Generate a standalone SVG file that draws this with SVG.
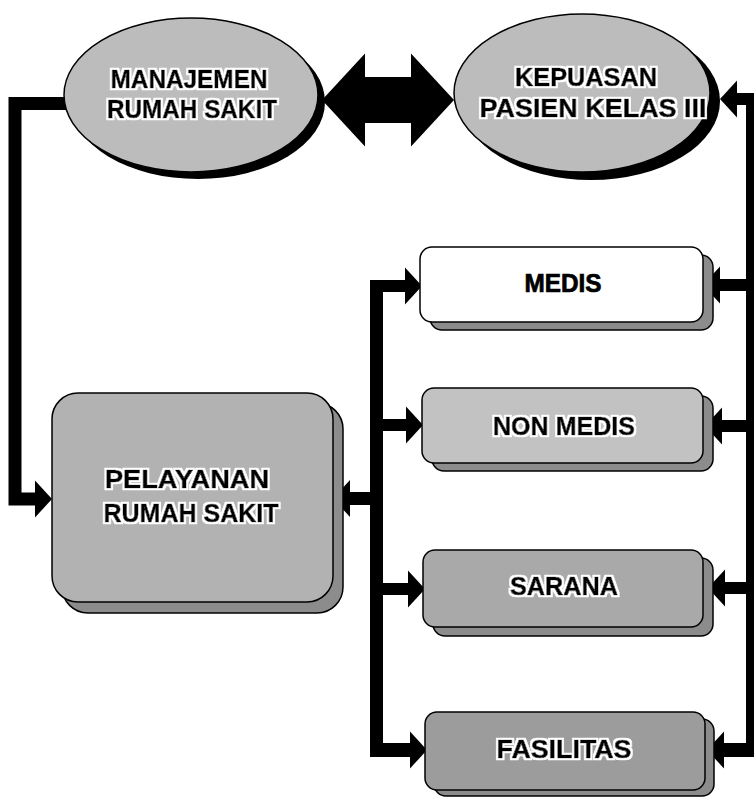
<svg xmlns="http://www.w3.org/2000/svg" width="755" height="798" viewBox="0 0 755 798">
<style>
.lbl{font-family:"Liberation Sans",Arial,sans-serif;font-weight:bold;font-size:25px;fill:#000;text-anchor:middle;stroke:#000;stroke-width:0.7;filter:url(#halo)}
.plain{filter:none}
.edge{stroke:#000;stroke-width:1.5}
.shadow{fill:#8c8c8c;stroke:#000;stroke-width:1.5}
.conn{fill:none;stroke:#000;stroke-linejoin:miter}
</style>
<defs>
<filter id="halo" x="-10%" y="-30%" width="120%" height="160%">
<feMorphology in="SourceAlpha" operator="dilate" radius="1.6" result="d"/>
<feFlood flood-color="#fff"/>
<feComposite in2="d" operator="in" result="w"/>
<feMerge><feMergeNode in="w"/><feMergeNode in="SourceGraphic"/></feMerge>
</filter>
<marker id="ah" markerUnits="userSpaceOnUse" markerWidth="17" markerHeight="37" refX="0" refY="18.5" orient="auto" overflow="visible">
<path d="M0,0 L17,18.5 L0,37 Z" fill="#000"/>
</marker>
<marker id="big" markerUnits="userSpaceOnUse" markerWidth="43" markerHeight="93" refX="0" refY="46.5" orient="auto-start-reverse" overflow="visible">
<path d="M0,0 L43,46.5 L0,93 Z" fill="#000"/>
</marker>
</defs>
<rect width="755" height="798" fill="#fff"/>

<g id="connectors">
<path class="conn" stroke-width="13" d="M68,103.5 H15 V499 H35" marker-end="url(#ah)"/>
<path class="conn" stroke-width="46" d="M365,100 H411" marker-start="url(#big)" marker-end="url(#big)"/>
<path class="conn" stroke-width="13" d="M376.5,280 V757"/>
<path class="conn" stroke-width="12" d="M370,286 H405" marker-end="url(#ah)"/>
<path class="conn" stroke-width="12" d="M370,425 H406" marker-end="url(#ah)"/>
<path class="conn" stroke-width="12" d="M370,589 H408" marker-end="url(#ah)"/>
<path class="conn" stroke-width="14" d="M370,750 H410" marker-end="url(#ah)"/>
<path class="conn" stroke-width="13" d="M383,498.5 H350" marker-end="url(#ah)"/>
<path class="conn" stroke-width="8" d="M750,93 V757"/>
<path class="conn" stroke-width="12" d="M754,99 H737" marker-end="url(#ah)"/>
<path class="conn" stroke-width="12" d="M754,285 H720" marker-end="url(#ah)"/>
<path class="conn" stroke-width="12" d="M754,426 H722" marker-end="url(#ah)"/>
<path class="conn" stroke-width="12" d="M754,588 H725" marker-end="url(#ah)"/>
<path class="conn" stroke-width="14" d="M754,750 H724" marker-end="url(#ah)"/>
</g>

<g id="manajemen">
<ellipse cx="198" cy="102" rx="127" ry="77" fill="#000"/>
<ellipse class="edge" cx="191" cy="95" rx="127" ry="77" fill="#bcbcbc"/>
<text class="lbl" x="189" y="88" textLength="157" lengthAdjust="spacingAndGlyphs">MANAJEMEN</text>
<text class="lbl" x="192" y="118" textLength="170" lengthAdjust="spacingAndGlyphs">RUMAH SAKIT</text>
</g>

<g id="kepuasan">
<ellipse cx="591" cy="101" rx="129" ry="79" fill="#000"/>
<ellipse class="edge" cx="582" cy="93" rx="128" ry="79" fill="#bcbcbc"/>
<text class="lbl" x="586" y="86" textLength="142" lengthAdjust="spacingAndGlyphs">KEPUASAN</text>
<text class="lbl" x="593" y="117" textLength="227" lengthAdjust="spacingAndGlyphs">PASIEN KELAS III</text>
</g>

<g id="pelayanan">
<rect class="shadow" x="62" y="403" width="281" height="210" rx="26"/>
<rect class="edge" x="52" y="393" width="281" height="209" rx="26" fill="#b2b2b2"/>
<text class="lbl" x="187" y="488" textLength="164" lengthAdjust="spacingAndGlyphs">PELAYANAN</text>
<text class="lbl" x="191" y="522" textLength="175" lengthAdjust="spacingAndGlyphs">RUMAH SAKIT</text>
</g>

<g id="medis">
<rect class="shadow" x="430" y="255" width="283" height="75" rx="12"/>
<rect class="edge" x="420" y="247" width="283" height="75" rx="12" fill="#fff"/>
<text class="lbl plain" x="563" y="292" textLength="77" lengthAdjust="spacingAndGlyphs">MEDIS</text>
</g>

<g id="nonmedis">
<rect class="shadow" x="432" y="396" width="281" height="75" rx="12"/>
<rect class="edge" x="422" y="388" width="281" height="75" rx="12" fill="#c2c2c2"/>
<text class="lbl" x="564" y="435" textLength="142" lengthAdjust="spacingAndGlyphs">NON MEDIS</text>
</g>

<g id="sarana">
<rect class="shadow" x="433" y="558" width="280" height="78" rx="12"/>
<rect class="edge" x="423" y="550" width="280" height="77" rx="12" fill="#a9a9a9"/>
<text class="lbl" x="564" y="595" textLength="108" lengthAdjust="spacingAndGlyphs">SARANA</text>
</g>

<g id="fasilitas">
<rect class="shadow" x="434" y="719" width="280" height="77" rx="12"/>
<rect class="edge" x="425" y="712" width="280" height="78" rx="12" fill="#9c9c9c"/>
<text class="lbl" x="564" y="758" textLength="135" lengthAdjust="spacingAndGlyphs">FASILITAS</text>
</g>
</svg>
